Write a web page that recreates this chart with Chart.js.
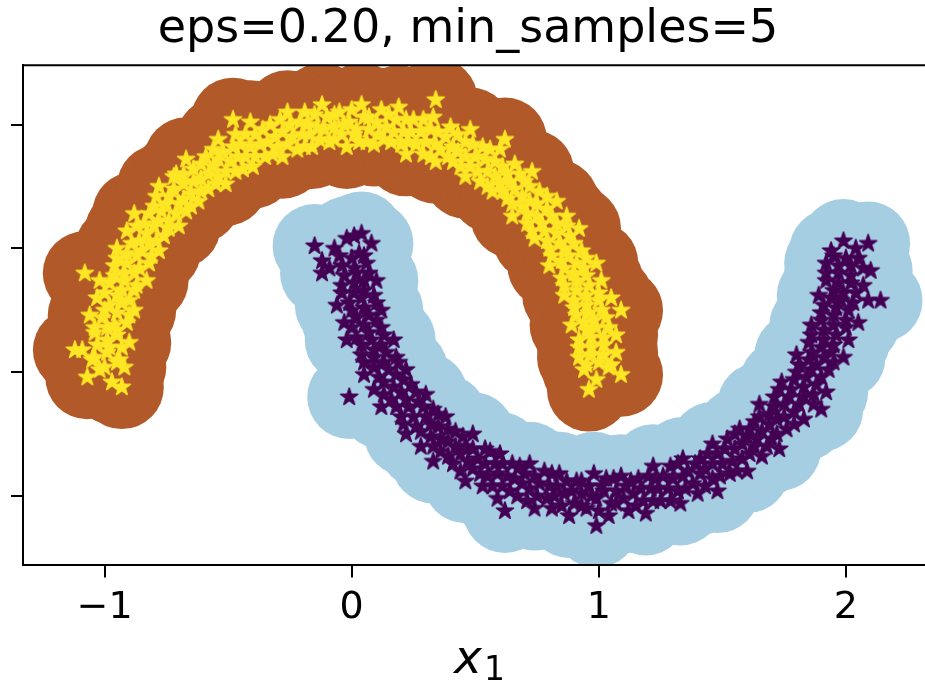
<!DOCTYPE html>
<html>
<head>
<meta charset="utf-8">
<title>DBSCAN eps=0.20</title>
<script src="https://cdn.jsdelivr.net/npm/chart.js@4.4.1/dist/chart.umd.min.js"></script>
<style>
  html, body { margin: 0; padding: 0; background: #fff; overflow: hidden; }
  #wrap { width: 925px; height: 683px; }
</style>
</head>
<body>
<div id="wrap"><canvas id="dbscanChart" width="925" height="683"></canvas></div>
<script>
'use strict';

var chartTitle = 'eps=0.20, min_samples=5';
var xLabelMain = 'x';
var xLabelSub = '1';
var xTicks = [-1, 0, 1, 2];
var yTicks = [-0.5, 0, 0.5, 1];

// cluster 1: upper moon, core samples [x, y]
var upperMoon = [
    [-0.92,0.02],[-0.97,-0.04],[-1.02,0.01],[-1.07,-0.02],
    [-0.95,0.04],[-1.00,0.02],[-1.05,0.05],
    [-0.94,0.05],[-0.99,0.08],[-1.04,0.06],[-1.09,0.09],
    [-0.93,0.10],[-0.98,0.10],[-1.03,0.11],
    [-0.90,0.12],[-0.95,0.15],[-0.99,0.13],[-1.04,0.16],
    [-0.95,0.17],[-0.99,0.18],[-1.04,0.18],
    [-0.91,0.20],[-0.96,0.19],[-1.01,0.22],[-1.06,0.23],
    [-0.90,0.23],[-0.95,0.24],[-1.00,0.25],
    [-0.88,0.25],[-0.93,0.28],[-0.98,0.27],[-1.03,0.30],
    [-0.90,0.29],[-0.95,0.31],[-1.00,0.32],
    [-0.88,0.33],[-0.93,0.33],[-0.98,0.36],[-1.02,0.37],
    [-0.87,0.35],[-0.92,0.37],[-0.96,0.39],
    [-0.83,0.37],[-0.88,0.40],[-0.92,0.40],[-0.96,0.43],
    [-0.86,0.42],[-0.91,0.44],[-0.95,0.46],
    [-0.82,0.44],[-0.87,0.47],[-0.91,0.48],[-0.95,0.50],
    [-0.81,0.47],[-0.85,0.49],[-0.89,0.52],
    [-0.78,0.49],[-0.82,0.52],[-0.86,0.53],[-0.91,0.57],
    [-0.79,0.53],[-0.83,0.56],[-0.87,0.59],
    [-0.76,0.55],[-0.80,0.59],[-0.84,0.60],[-0.88,0.64],
    [-0.74,0.58],[-0.78,0.61],[-0.82,0.64],
    [-0.70,0.59],[-0.74,0.61],[-0.77,0.65],[-0.80,0.67],
    [-0.71,0.64],[-0.75,0.68],[-0.79,0.71],
    [-0.67,0.65],[-0.70,0.68],[-0.74,0.71],[-0.78,0.75],
    [-0.65,0.67],[-0.68,0.70],[-0.72,0.74],
    [-0.62,0.69],[-0.65,0.72],[-0.68,0.76],[-0.72,0.79],
    [-0.61,0.73],[-0.64,0.77],[-0.68,0.80],
    [-0.58,0.74],[-0.61,0.78],[-0.64,0.82],[-0.67,0.86],
    [-0.55,0.76],[-0.58,0.80],[-0.61,0.84],
    [-0.51,0.76],[-0.54,0.79],[-0.56,0.83],[-0.59,0.87],
    [-0.51,0.81],[-0.54,0.86],[-0.56,0.90],
    [-0.47,0.81],[-0.49,0.85],[-0.52,0.89],[-0.54,0.94],
    [-0.44,0.82],[-0.46,0.87],[-0.48,0.91],
    [-0.40,0.83],[-0.43,0.87],[-0.45,0.92],[-0.47,0.96],
    [-0.39,0.87],[-0.41,0.91],[-0.43,0.96],
    [-0.35,0.87],[-0.37,0.92],[-0.39,0.96],[-0.41,1.01],
    [-0.32,0.88],[-0.34,0.93],[-0.36,0.98],
    [-0.28,0.87],[-0.30,0.91],[-0.31,0.95],[-0.33,1.00],
    [-0.26,0.92],[-0.28,0.97],[-0.29,1.02],
    [-0.22,0.90],[-0.24,0.95],[-0.25,1.00],[-0.26,1.05],
    [-0.19,0.91],[-0.20,0.96],[-0.21,1.01],
    [-0.16,0.91],[-0.17,0.96],[-0.18,1.00],[-0.19,1.05],
    [-0.13,0.94],[-0.14,0.99],[-0.15,1.04],
    [-0.09,0.93],[-0.11,0.98],[-0.10,1.03],[-0.12,1.08],
    [-0.07,0.94],[-0.07,0.99],[-0.07,1.04],
    [-0.02,0.91],[-0.04,0.96],[-0.03,1.00],[-0.05,1.05],
    [0.01,0.96],[-0.01,1.01],[0.00,1.06],
    [0.03,0.93],[0.02,0.98],[0.05,1.03],[0.04,1.08],
    [0.06,0.93],[0.07,0.98],[0.07,1.03],
    [0.09,0.92],[0.11,0.96],[0.10,1.01],[0.12,1.06],
    [0.13,0.94],[0.14,0.99],[0.15,1.04],
    [0.16,0.93],[0.17,0.97],[0.18,1.02],[0.19,1.07],
    [0.20,0.92],[0.21,0.97],[0.22,1.02],
    [0.22,0.88],[0.23,0.93],[0.24,0.97],[0.25,1.02],
    [0.26,0.92],[0.28,0.97],[0.29,1.02],
    [0.29,0.88],[0.30,0.93],[0.32,0.98],[0.33,1.03],
    [0.32,0.87],[0.34,0.92],[0.35,0.97],
    [0.34,0.85],[0.36,0.90],[0.38,0.95],[0.40,0.99],
    [0.39,0.87],[0.41,0.91],[0.43,0.96],
    [0.41,0.85],[0.43,0.89],[0.46,0.93],[0.48,0.98],
    [0.44,0.83],[0.46,0.87],[0.49,0.92],
    [0.46,0.79],[0.48,0.83],[0.50,0.87],[0.53,0.91],
    [0.51,0.81],[0.54,0.86],[0.56,0.90],
    [0.52,0.77],[0.55,0.81],[0.58,0.85],[0.60,0.90],
    [0.55,0.75],[0.58,0.79],[0.61,0.83],
    [0.57,0.73],[0.60,0.76],[0.63,0.80],[0.66,0.84],
    [0.61,0.73],[0.64,0.77],[0.68,0.80],
    [0.63,0.70],[0.66,0.74],[0.70,0.77],[0.73,0.81],
    [0.65,0.68],[0.69,0.71],[0.72,0.75],
    [0.65,0.63],[0.69,0.67],[0.72,0.69],[0.76,0.73],
    [0.71,0.64],[0.75,0.68],[0.79,0.71],
    [0.71,0.60],[0.75,0.63],[0.79,0.66],[0.83,0.69],
    [0.73,0.57],[0.77,0.60],[0.81,0.63],
    [0.74,0.54],[0.78,0.57],[0.83,0.60],[0.87,0.63],
    [0.79,0.53],[0.83,0.56],[0.87,0.59],
    [0.80,0.50],[0.84,0.52],[0.88,0.55],[0.92,0.58],
    [0.81,0.47],[0.86,0.50],[0.90,0.52],
    [0.80,0.43],[0.85,0.45],[0.88,0.47],[0.93,0.49],
    [0.86,0.42],[0.91,0.44],[0.95,0.46],
    [0.85,0.38],[0.90,0.40],[0.94,0.42],[0.99,0.44],
    [0.86,0.35],[0.91,0.37],[0.95,0.39],
    [0.86,0.31],[0.91,0.33],[0.96,0.35],[1.01,0.37],
    [0.90,0.29],[0.95,0.31],[1.00,0.32],
    [0.90,0.26],[0.95,0.27],[1.00,0.29],[1.05,0.30],
    [0.91,0.23],[0.96,0.24],[1.01,0.25],
    [0.89,0.19],[0.94,0.20],[0.98,0.21],[1.03,0.22],
    [0.95,0.17],[0.99,0.18],[1.04,0.18],
    [0.92,0.13],[0.97,0.14],[1.02,0.14],[1.07,0.15],
    [0.92,0.10],[0.97,0.10],[1.02,0.11],
    [0.92,0.06],[0.97,0.07],[1.02,0.07],[1.07,0.08],
    [0.95,0.03],[1.00,0.04],[1.05,0.03],
    [0.94,0.01],[0.99,-0.03],[1.04,0.02],[1.09,-0.01],
    [-1.12,0.09],[-0.93,-0.06],[0.34,1.10],[-0.48,1.02],[0.96,-0.07],
    [1.09,0.25],[-0.71,0.80],[0.62,0.94],[-1.08,0.40]
];

// cluster 0: lower moon, core samples [x, y]
var lowerMoon = [
    [0.08,0.52],[0.03,0.48],[-0.02,0.54],[-0.07,0.50],
    [0.05,0.47],[0.00,0.46],[-0.05,0.47],
    [0.06,0.44],[0.01,0.42],[-0.04,0.43],[-0.09,0.42],
    [0.07,0.40],[0.02,0.40],[-0.03,0.39],
    [0.10,0.37],[0.05,0.37],[0.01,0.36],[-0.04,0.35],
    [0.05,0.33],[0.01,0.32],[-0.04,0.32],
    [0.09,0.31],[0.04,0.30],[-0.01,0.28],[-0.06,0.27],
    [0.10,0.28],[0.05,0.26],[0.00,0.25],
    [0.12,0.25],[0.07,0.23],[0.02,0.22],[-0.03,0.20],
    [0.10,0.21],[0.05,0.19],[0.00,0.18],
    [0.12,0.18],[0.07,0.16],[0.02,0.14],[-0.02,0.13],
    [0.13,0.15],[0.08,0.13],[0.04,0.11],
    [0.17,0.13],[0.12,0.11],[0.09,0.09],[0.04,0.07],
    [0.14,0.08],[0.09,0.06],[0.05,0.04],
    [0.18,0.06],[0.13,0.04],[0.09,0.02],[0.05,-0.01],
    [0.19,0.04],[0.15,0.01],[0.11,-0.02],
    [0.22,0.01],[0.18,-0.01],[0.13,-0.04],[0.09,-0.07],
    [0.21,-0.03],[0.17,-0.06],[0.13,-0.09],
    [0.24,-0.05],[0.20,-0.08],[0.16,-0.11],[0.12,-0.14],
    [0.26,-0.08],[0.22,-0.11],[0.18,-0.14],
    [0.30,-0.09],[0.27,-0.12],[0.23,-0.14],[0.20,-0.18],
    [0.29,-0.14],[0.25,-0.18],[0.21,-0.21],
    [0.33,-0.15],[0.30,-0.18],[0.26,-0.22],[0.22,-0.25],
    [0.35,-0.17],[0.32,-0.21],[0.28,-0.24],
    [0.38,-0.18],[0.35,-0.22],[0.32,-0.26],[0.28,-0.30],
    [0.39,-0.23],[0.36,-0.27],[0.33,-0.30],
    [0.42,-0.24],[0.39,-0.28],[0.36,-0.32],[0.33,-0.36],
    [0.45,-0.26],[0.42,-0.30],[0.39,-0.34],
    [0.49,-0.25],[0.46,-0.30],[0.44,-0.33],[0.41,-0.37],
    [0.49,-0.31],[0.47,-0.36],[0.44,-0.40],
    [0.54,-0.31],[0.51,-0.35],[0.49,-0.39],[0.46,-0.44],
    [0.56,-0.32],[0.54,-0.37],[0.52,-0.41],
    [0.60,-0.33],[0.58,-0.37],[0.55,-0.42],[0.53,-0.46],
    [0.61,-0.37],[0.59,-0.41],[0.57,-0.46],
    [0.65,-0.37],[0.63,-0.42],[0.61,-0.46],[0.59,-0.51],
    [0.68,-0.38],[0.66,-0.43],[0.64,-0.48],
    [0.72,-0.37],[0.70,-0.41],[0.69,-0.45],[0.67,-0.50],
    [0.74,-0.42],[0.72,-0.47],[0.71,-0.52],
    [0.78,-0.40],[0.76,-0.45],[0.75,-0.50],[0.74,-0.55],
    [0.81,-0.41],[0.80,-0.46],[0.79,-0.51],
    [0.84,-0.41],[0.83,-0.46],[0.82,-0.50],[0.81,-0.55],
    [0.87,-0.44],[0.86,-0.49],[0.85,-0.54],
    [0.91,-0.44],[0.89,-0.48],[0.90,-0.53],[0.88,-0.58],
    [0.93,-0.44],[0.93,-0.49],[0.93,-0.54],
    [0.98,-0.41],[0.96,-0.46],[0.97,-0.50],[0.95,-0.55],
    [1.01,-0.46],[0.99,-0.51],[1.00,-0.56],
    [1.03,-0.43],[1.02,-0.48],[1.05,-0.53],[1.04,-0.58],
    [1.06,-0.43],[1.07,-0.48],[1.07,-0.53],
    [1.09,-0.42],[1.11,-0.46],[1.10,-0.51],[1.12,-0.56],
    [1.13,-0.44],[1.14,-0.49],[1.15,-0.54],
    [1.16,-0.43],[1.17,-0.47],[1.18,-0.52],[1.19,-0.57],
    [1.20,-0.42],[1.21,-0.47],[1.22,-0.52],
    [1.22,-0.38],[1.23,-0.43],[1.24,-0.47],[1.25,-0.52],
    [1.26,-0.42],[1.28,-0.47],[1.29,-0.52],
    [1.29,-0.38],[1.30,-0.43],[1.32,-0.48],[1.33,-0.53],
    [1.32,-0.37],[1.34,-0.42],[1.35,-0.47],
    [1.34,-0.35],[1.36,-0.40],[1.38,-0.45],[1.40,-0.49],
    [1.39,-0.37],[1.41,-0.41],[1.43,-0.46],
    [1.41,-0.35],[1.43,-0.39],[1.46,-0.43],[1.48,-0.48],
    [1.44,-0.33],[1.46,-0.37],[1.49,-0.42],
    [1.46,-0.29],[1.48,-0.33],[1.50,-0.37],[1.53,-0.41],
    [1.51,-0.31],[1.54,-0.36],[1.56,-0.40],
    [1.52,-0.27],[1.55,-0.31],[1.58,-0.35],[1.60,-0.40],
    [1.55,-0.25],[1.58,-0.29],[1.61,-0.33],
    [1.57,-0.23],[1.60,-0.26],[1.63,-0.30],[1.66,-0.34],
    [1.61,-0.23],[1.64,-0.27],[1.68,-0.30],
    [1.63,-0.20],[1.66,-0.24],[1.70,-0.27],[1.73,-0.31],
    [1.65,-0.18],[1.69,-0.21],[1.72,-0.25],
    [1.65,-0.13],[1.69,-0.17],[1.72,-0.19],[1.76,-0.23],
    [1.71,-0.14],[1.75,-0.18],[1.79,-0.21],
    [1.71,-0.10],[1.75,-0.13],[1.79,-0.16],[1.83,-0.19],
    [1.73,-0.07],[1.77,-0.10],[1.81,-0.13],
    [1.74,-0.04],[1.78,-0.07],[1.83,-0.10],[1.87,-0.13],
    [1.79,-0.03],[1.83,-0.06],[1.87,-0.09],
    [1.80,0.00],[1.84,-0.02],[1.88,-0.05],[1.92,-0.08],
    [1.81,0.03],[1.86,0.01],[1.90,-0.02],
    [1.80,0.07],[1.85,0.05],[1.88,0.03],[1.93,0.01],
    [1.86,0.08],[1.91,0.06],[1.95,0.04],
    [1.85,0.12],[1.90,0.10],[1.94,0.08],[1.99,0.06],
    [1.86,0.15],[1.91,0.13],[1.95,0.11],
    [1.86,0.19],[1.91,0.17],[1.96,0.15],[2.01,0.13],
    [1.90,0.21],[1.95,0.19],[2.00,0.18],
    [1.90,0.24],[1.95,0.23],[2.00,0.21],[2.05,0.20],
    [1.91,0.27],[1.96,0.26],[2.01,0.25],
    [1.89,0.31],[1.94,0.30],[1.98,0.29],[2.03,0.28],
    [1.95,0.33],[1.99,0.32],[2.04,0.32],
    [1.92,0.37],[1.97,0.36],[2.02,0.36],[2.07,0.35],
    [1.92,0.40],[1.97,0.40],[2.02,0.39],
    [1.92,0.44],[1.97,0.43],[2.02,0.43],[2.07,0.42],
    [1.95,0.47],[2.00,0.46],[2.05,0.46],
    [1.94,0.49],[1.99,0.53],[2.04,0.50],[2.09,0.52],
    [-0.15,0.51],[-0.12,0.45],[-0.12,0.40],[-0.01,-0.10],[0.99,-0.62],
    [2.14,0.29],[2.09,0.29],[2.10,0.41],[1.90,-0.15],[0.62,-0.56],
    [0.04,0.56],[0.01,0.55]
];

var xRange = [-1.33, 2.32];
var yRange = [-0.78, 1.24];

function toPoints(list) {
    return list.map(function (p) { return { x: p[0], y: p[1] }; });
}

// filled five-pointed star with a same-colour edge, like matplotlib's '*' marker
function makeStar(color, r) {
    var c = document.createElement('canvas');
    var size = Math.ceil(r * 2 + 4);
    c.width = size;
    c.height = size;
    var ctx = c.getContext('2d');
    ctx.translate(size / 2, size / 2);
    ctx.beginPath();
    for (var i = 0; i < 10; i++) {
        var rad = i % 2 === 0 ? r : r * 0.382;
        var a = -Math.PI / 2 + i * Math.PI / 5;
        ctx.lineTo(rad * Math.cos(a), rad * Math.sin(a));
    }
    ctx.closePath();
    ctx.fillStyle = color;
    ctx.fill();
    ctx.strokeStyle = color;
    ctx.lineWidth = 1.6;
    ctx.lineJoin = 'round';
    ctx.stroke();
    return c;
}

// top spine + the x_1 axis label (italic x with a lowered upright 1)
var frameAndLabel = {
    id: 'frameAndLabel',
    afterDraw: function (chart) {
        var a = chart.chartArea;
        var ctx = chart.ctx;
        ctx.save();
        ctx.strokeStyle = '#000';
        ctx.lineWidth = 2;
        ctx.beginPath();
        ctx.moveTo(a.left, a.top);
        ctx.lineTo(a.right, a.top);
        ctx.stroke();

        var cx = (a.left + a.right) / 2;
        ctx.fillStyle = '#000';
        ctx.textBaseline = 'alphabetic';
        ctx.textAlign = 'left';
        ctx.font = "italic 47px 'DejaVu Sans'";
        ctx.fillText(xLabelMain, cx - 20, a.bottom + 108);
        ctx.font = "33px 'DejaVu Sans'";
        ctx.fillText(xLabelSub, cx + 10, a.bottom + 115);
        ctx.restore();
    }
};

function tickSetter(values) {
    return function (scale) {
        scale.ticks = values.map(function (v) { return { value: v }; });
    };
}

Chart.defaults.font.family = "'DejaVu Sans', sans-serif";
Chart.defaults.color = '#000';

var coreRadius = 42;
var starRadius = 9;

new Chart(document.getElementById('dbscanChart'), {
    type: 'scatter',
    data: {
        datasets: [
            {
                label: 'cluster 0 core',
                data: toPoints(lowerMoon),
                pointRadius: coreRadius,
                pointBorderWidth: 0,
                backgroundColor: '#a6cee3',
                clip: 0,
                order: 4
            },
            {
                label: 'cluster 1 core',
                data: toPoints(upperMoon),
                pointRadius: coreRadius,
                pointBorderWidth: 0,
                backgroundColor: '#b15928',
                clip: 0,
                order: 3
            },
            {
                label: 'cluster 0',
                data: toPoints(lowerMoon),
                pointStyle: makeStar('#440154', starRadius),
                clip: 0,
                order: 2
            },
            {
                label: 'cluster 1',
                data: toPoints(upperMoon),
                pointStyle: makeStar('#fde725', starRadius),
                clip: 0,
                order: 1
            }
        ]
    },
    options: {
        responsive: false,
        animation: false,
        events: [],
        layout: { autoPadding: false, padding: { left: 11, right: 0, top: 0, bottom: 44 } },
        plugins: {
            legend: { display: false },
            tooltip: { enabled: false },
            title: {
                display: true,
                text: chartTitle,
                font: { size: 46, weight: 'normal' },
                color: '#000',
                padding: { top: 2, bottom: 8 }
            }
        },
        scales: {
            x: {
                type: 'linear',
                min: xRange[0],
                max: xRange[1],
                afterBuildTicks: tickSetter(xTicks),
                grid: { drawOnChartArea: false, drawTicks: true, tickLength: 12, color: '#000', lineWidth: 2 },
                border: { display: true, color: '#000', width: 2, z: 1 },
                ticks: {
                    font: { size: 38 },
                    color: '#000',
                    padding: 8,
                    maxRotation: 0,
                    autoSkip: false,
                    callback: function (v) { return String(v).replace('-', '\u2212'); }
                }
            },
            y: {
                type: 'linear',
                min: yRange[0],
                max: yRange[1],
                afterBuildTicks: tickSetter(yTicks),
                grid: { drawOnChartArea: false, drawTicks: true, tickLength: 12, color: '#000', lineWidth: 2 },
                border: { display: true, color: '#000', width: 2, z: 1 },
                ticks: { display: false }
            }
        }
    },
    plugins: [frameAndLabel]
});
</script>
</body>
</html>
